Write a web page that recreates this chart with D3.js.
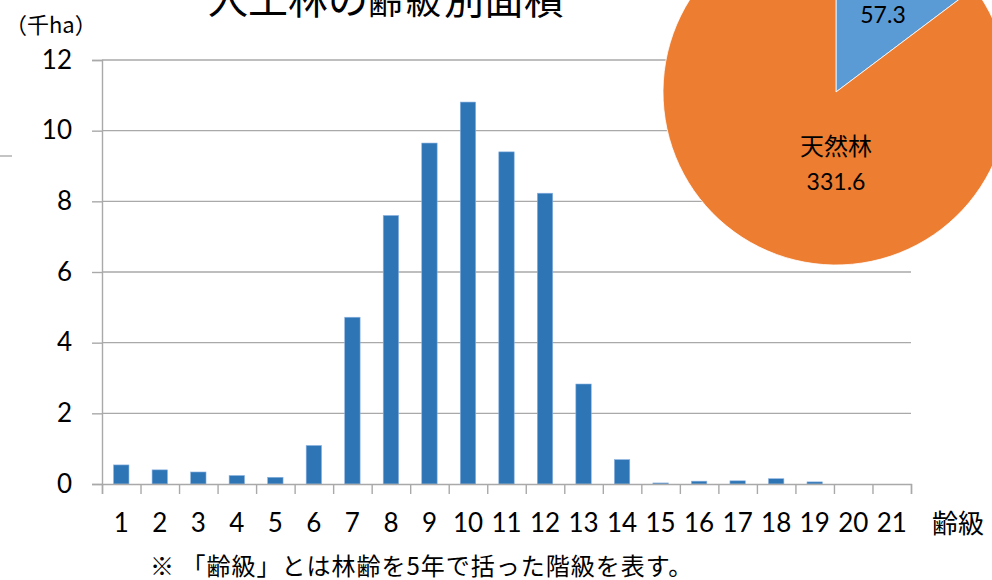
<!DOCTYPE html>
<html>
<head>
<meta charset="utf-8">
<script src="https://cdn.jsdelivr.net/npm/d3@7"></script>
<style>
  html, body { margin: 0; padding: 0; background: #fff; }
  svg { display: block; }
  .num { font-family: Lato, "Noto Sans", sans-serif; }
  .jp { font-family: "Noto Sans CJK JP", sans-serif; }
</style>
</head>
<body>
<svg id="chart" width="992" height="580"></svg>
<script>
// 人工林の齢級別面積 (千ha) — 齢級 1..21
const ageClasses = ["1","2","3","4","5","6","7","8","9","10","11","12","13","14","15","16","17","18","19","20","21"];
const plantedArea = [0.54, 0.40, 0.34, 0.24, 0.19, 1.09, 4.72, 7.60, 9.65, 10.81, 9.40, 8.23, 2.83, 0.69, 0.03, 0.08, 0.09, 0.15, 0.06, 0, 0];
const yTicks = [0, 2, 4, 6, 8, 10, 12];

// 森林面積の内訳 (千ha)
const forestTypes = ["人工林", "天然林"];
const forestArea = [57.3, 331.6];
const forestColors = ["#5B9BD5", "#ED7D31"];

const svg = d3.select("#chart");

const plot = { left: 102, right: 911, top: 60, bottom: 484 };

const x = d3.scaleBand()
  .domain(ageClasses)
  .range([plot.left, plot.right])
  .paddingInner(0.6)
  .paddingOuter(0.3);

const xEdges = d3.scaleLinear().domain([0, ageClasses.length]).range([plot.left, plot.right]);

const y = d3.scaleLinear().domain([0, 12]).range([plot.bottom, plot.top]);

// horizontal gridlines
svg.append("g")
  .selectAll("line")
  .data(yTicks.filter(d => d > 0))
  .join("line")
  .attr("x1", plot.left).attr("x2", plot.right)
  .attr("y1", d => y(d)).attr("y2", d => y(d))
  .attr("stroke", "#A9A9A9").attr("stroke-width", 1.4);

// y axis with outward ticks
const yAxis = svg.append("g")
  .attr("transform", `translate(${plot.left},0)`)
  .call(d3.axisLeft(y).tickValues(yTicks).tickSize(10).tickPadding(20).tickFormat(d3.format("d")));
yAxis.select(".domain").attr("stroke", "#A9A9A9").attr("stroke-width", 1.4);
yAxis.selectAll(".tick line").attr("stroke", "#A9A9A9").attr("stroke-width", 1.4);
yAxis.selectAll(".tick text")
  .attr("class", "num")
  .attr("font-size", 26).attr("fill", "#000");

// bars
svg.append("g")
  .selectAll("rect")
  .data(plantedArea)
  .join("rect")
  .attr("x", (d, i) => x(ageClasses[i]))
  .attr("width", x.bandwidth())
  .attr("y", d => y(d))
  .attr("height", d => y(0) - y(d))
  .attr("fill", "#2E75B6")
  .attr("stroke", "#8DB4E2")
  .attr("stroke-width", 0.6);

// x axis: ticks between categories
const xAxis = svg.append("g")
  .attr("transform", `translate(0,${plot.bottom})`)
  .call(d3.axisBottom(xEdges).tickValues(d3.range(ageClasses.length + 1)).tickSize(10).tickFormat(""));
xAxis.select(".domain").attr("stroke", "#A9A9A9").attr("stroke-width", 1.4);
xAxis.selectAll(".tick line").attr("stroke", "#A9A9A9").attr("stroke-width", 1.4);

// category labels
const xLabels = svg.append("g")
  .attr("transform", `translate(0,${plot.bottom})`)
  .call(d3.axisBottom(x).tickSize(0).tickPadding(30));
xLabels.select(".domain").remove();
xLabels.selectAll(".tick text")
  .attr("class", "num")
  .attr("font-size", 26).attr("fill", "#000");

// axis titles
svg.append("text")
  .attr("class", "jp")
  .attr("x", 932).attr("y", 533)
  .attr("font-size", 26).attr("fill", "#000")
  .text("齢級");

svg.append("text")
  .attr("class", "jp")
  .attr("x", 5).attr("y", 33)
  .attr("font-size", 22).attr("fill", "#000")
  .text("（千ha）");

// chart title
const title = svg.append("text")
  .attr("class", "jp")
  .attr("x", 208).attr("y", 14)
  .attr("font-size", 40).attr("fill", "#000");
title.append("tspan").text("人工林の");
title.append("tspan").attr("font-size", 35).attr("letter-spacing", 3).text("齢級");
title.append("tspan").text("別面積");

// footnote
svg.append("text")
  .attr("class", "jp")
  .attr("x", 150).attr("y", 575)
  .attr("font-size", 24).attr("letter-spacing", 1)
  .attr("fill", "#000")
  .text("※ 「齢級」とは林齢を5年で括った階級を表す。");

// small grey mark at the left edge
svg.append("line")
  .attr("x1", 0).attr("x2", 12).attr("y1", 156).attr("y2", 156)
  .attr("stroke", "#C4C4C4").attr("stroke-width", 2);

// pie of forest composition
const pieCenter = [836, 92];
const radius = 173;
const pie = d3.pie().sort(null).value(d => d)(forestArea);
const arc = d3.arc().innerRadius(0).outerRadius(radius);

const pieG = svg.append("g").attr("transform", `translate(${pieCenter[0]},${pieCenter[1]})`);
pieG.selectAll("path")
  .data(pie)
  .join("path")
  .attr("d", arc)
  .attr("fill", (d, i) => forestColors[i])
  .attr("stroke", "#fff")
  .attr("stroke-width", 0.8);

// slice labels
const labelPos = [[47, -104], [0, 63]];
pie.forEach((d, i) => {
  const g = pieG.append("g").attr("transform", `translate(${labelPos[i][0]},${labelPos[i][1]})`);
  g.append("text")
    .attr("class", "jp")
    .attr("text-anchor", "middle")
    .attr("y", 0)
    .attr("font-size", 24).attr("fill", "#000")
    .text(forestTypes[i]);
  g.append("text")
    .attr("class", "num")
    .attr("text-anchor", "middle")
    .attr("y", 35)
    .attr("font-size", 23).attr("fill", "#000")
    .text(d3.format(".1f")(forestArea[i]));
});
</script>
</body>
</html>
